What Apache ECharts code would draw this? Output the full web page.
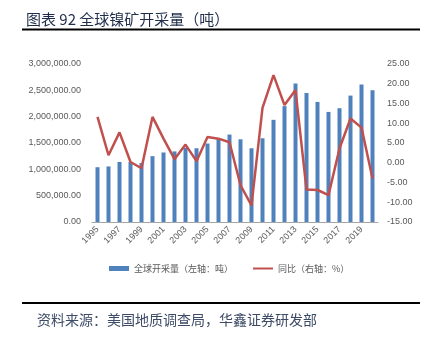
<!DOCTYPE html>
<html><head><meta charset="utf-8">
<script src="https://cdn.jsdelivr.net/npm/echarts@6/dist/echarts.min.js"></script>
<style>html,body{margin:0;padding:0;background:#fff}#c{width:429px;height:337px}</style>
</head><body><div id="c"></div>
<script>
var years = ['1995','1996','1997','1998','1999','2000','2001','2002','2003','2004','2005','2006','2007','2008','2009','2010','2011','2012','2013','2014','2015','2016','2017','2018','2019','2020'];
var output = [1040000,1055000,1140000,1140000,1120000,1250000,1320000,1340000,1410000,1400000,1490000,1570000,1660000,1570000,1400000,1590000,1940000,2200000,2630000,2450000,2280000,2090000,2160000,2400000,2610000,2500000];
var yoy = [11.6,1.9,7.7,0.2,-1.4,11.6,6.1,0.9,4.6,0.4,6.5,6.1,5.2,-5.7,-10.8,13.9,22.2,14.6,18.4,-6.8,-6.9,-8.2,3.6,11.2,8.9,-4.0];
var barName = '全球开采量（左轴：吨）';
var lineName = '同比（右轴：%）';
var titleText = '图表 92 全球镍矿开采量（吨）';
var sourceText = '资料来源：美国地质调查局，华鑫证券研发部';

var chart = echarts.init(document.getElementById('c'), null, {renderer:'canvas'});
var lab = {color:'#595959', fontSize:9, fontFamily:'Liberation Sans, Arial, sans-serif'};
chart.setOption({
  animation:false,
  title:[{text:titleText, left:21, top:7, textStyle:{fontSize:15, fontWeight:'normal', color:'#1f2d4a', fontFamily:'Noto Sans CJK SC'}},
         {text:sourceText, left:32, top:308, textStyle:{fontSize:14, fontWeight:'normal', color:'#3d4b66', fontFamily:'Noto Sans CJK SC'}}],
  graphic:[
    {type:'rect', shape:{x:22, y:28.5, width:398, height:2}, style:{fill:'#000'}},
    {type:'rect', shape:{x:22, y:302, width:398, height:2}, style:{fill:'#000'}}
  ],
  legend:[
    {data:[barName], left:104, top:259, itemWidth:20, itemHeight:5, itemGap:4, icon:'rect',
     textStyle:{color:'#595959', fontSize:9, fontFamily:'Noto Sans CJK SC'}},
    {data:[lineName], left:248, top:259, itemWidth:20, itemHeight:2, icon:'rect',
     textStyle:{color:'#595959', fontSize:9, fontFamily:'Noto Sans CJK SC'}}
  ],
  grid:{left:92, right:51, top:64, bottom:115},
  xAxis:{type:'category', data:years,
    axisLine:{lineStyle:{color:'#a6a6a6'}},
    axisTick:{interval:1, length:4, lineStyle:{color:'#a6a6a6'}},
    axisLabel:Object.assign({interval:1, rotate:45, margin:6}, lab)},
  yAxis:[
    {type:'value', min:0, max:3000000, interval:500000, splitLine:{show:false},
     axisLine:{show:false}, axisTick:{show:false},
     axisLabel:Object.assign({margin:11, formatter:function(v){return v.toLocaleString('en-US',{minimumFractionDigits:2,maximumFractionDigits:2});}}, lab)},
    {type:'value', min:-15, max:25, interval:5, splitLine:{show:false},
     axisLine:{show:false}, axisTick:{show:false},
     axisLabel:Object.assign({margin:9, formatter:function(v){return v.toFixed(2);}}, lab)}
  ],
  series:[
    {name:barName, type:'bar', data:output, barWidth:4, itemStyle:{color:'#4f81bd'}},
    {name:lineName, type:'line', yAxisIndex:1, data:yoy, symbol:'none', lineStyle:{color:'#c0504d', width:2.5}, itemStyle:{color:'#c0504d'}}
  ]
});
</script></body></html>
